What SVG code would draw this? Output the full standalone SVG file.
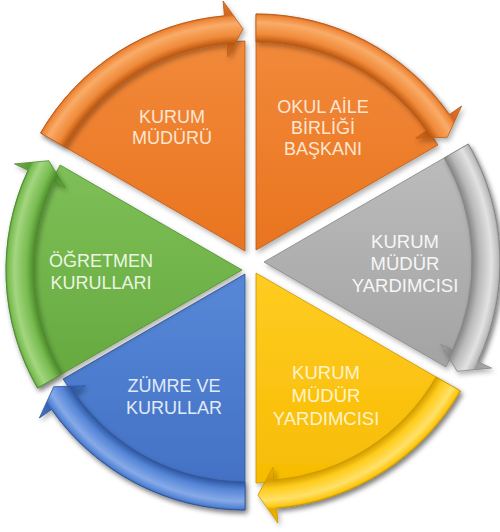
<svg xmlns="http://www.w3.org/2000/svg" width="500" height="532" viewBox="0 0 500 532">
<defs>
  <filter id="sh" x="-10%" y="-10%" width="125%" height="125%">
    <feDropShadow dx="2" dy="3" stdDeviation="2.5" flood-color="#000" flood-opacity="0.3"/>
  </filter>
  <linearGradient id="bOr" x1="0" y1="0" x2="0" y2="1"><stop offset="0" stop-color="#F38C3E"/><stop offset="1" stop-color="#E9741F"/></linearGradient>
  <linearGradient id="bGy" x1="0" y1="0" x2="0" y2="1"><stop offset="0" stop-color="#BDBDBD"/><stop offset="1" stop-color="#A3A3A3"/></linearGradient>
  <linearGradient id="bYe" x1="0" y1="0" x2="0" y2="1"><stop offset="0" stop-color="#FFCC22"/><stop offset="1" stop-color="#F6BA00"/></linearGradient>
  <linearGradient id="bBl" x1="0" y1="0" x2="0" y2="1"><stop offset="0" stop-color="#5788D8"/><stop offset="1" stop-color="#416EC2"/></linearGradient>
  <linearGradient id="bGr" x1="0" y1="0" x2="0" y2="1"><stop offset="0" stop-color="#7EC057"/><stop offset="1" stop-color="#64A83E"/></linearGradient>

  <radialGradient id="aOr1" gradientUnits="userSpaceOnUse" cx="245" cy="251" r="260">
    <stop offset="0.75" stop-color="#E06E22"/><stop offset="0.80" stop-color="#B9550F"/><stop offset="0.83" stop-color="#F08A3A"/><stop offset="0.875" stop-color="#F9AC68"/><stop offset="0.90" stop-color="#EF8739"/><stop offset="0.91" stop-color="#D2671E"/><stop offset="0.97" stop-color="#E87A2C"/>
  </radialGradient>
  <radialGradient id="aOr2" gradientUnits="userSpaceOnUse" cx="256" cy="250" r="260">
    <stop offset="0.75" stop-color="#E06E22"/><stop offset="0.80" stop-color="#B9550F"/><stop offset="0.83" stop-color="#F08A3A"/><stop offset="0.875" stop-color="#F9AC68"/><stop offset="0.90" stop-color="#EF8739"/><stop offset="0.91" stop-color="#D2671E"/><stop offset="0.97" stop-color="#E87A2C"/>
  </radialGradient>
  <radialGradient id="aGy" gradientUnits="userSpaceOnUse" cx="264" cy="262" r="260">
    <stop offset="0.75" stop-color="#A8A8A8"/><stop offset="0.80" stop-color="#858585"/><stop offset="0.83" stop-color="#B9B9B9"/><stop offset="0.875" stop-color="#E2E2E2"/><stop offset="0.90" stop-color="#BEBEBE"/><stop offset="0.91" stop-color="#9A9A9A"/><stop offset="0.97" stop-color="#B0B0B0"/>
  </radialGradient>
  <radialGradient id="aYe" gradientUnits="userSpaceOnUse" cx="256" cy="273" r="260">
    <stop offset="0.75" stop-color="#F2B400"/><stop offset="0.80" stop-color="#D49C00"/><stop offset="0.83" stop-color="#FFCC1A"/><stop offset="0.875" stop-color="#FFE16A"/><stop offset="0.90" stop-color="#FFC814"/><stop offset="0.91" stop-color="#E3A800"/><stop offset="0.97" stop-color="#F5BC00"/>
  </radialGradient>
  <radialGradient id="aBl" gradientUnits="userSpaceOnUse" cx="245" cy="274" r="260">
    <stop offset="0.75" stop-color="#4675C8"/><stop offset="0.80" stop-color="#2E56A0"/><stop offset="0.83" stop-color="#5585D6"/><stop offset="0.875" stop-color="#86AAE8"/><stop offset="0.90" stop-color="#5584D4"/><stop offset="0.91" stop-color="#3863B4"/><stop offset="0.97" stop-color="#4A78C8"/>
  </radialGradient>
  <radialGradient id="aGr" gradientUnits="userSpaceOnUse" cx="242" cy="270" r="260">
    <stop offset="0.75" stop-color="#68AB42"/><stop offset="0.80" stop-color="#4C8A2A"/><stop offset="0.83" stop-color="#78BC50"/><stop offset="0.875" stop-color="#A3D680"/><stop offset="0.90" stop-color="#7ABD52"/><stop offset="0.91" stop-color="#5C9C36"/><stop offset="0.97" stop-color="#6CB046"/>
  </radialGradient>
</defs>
<style>
  .body { filter: url(#sh); stroke-width: 0.8; }
  .arr { filter: url(#sh); stroke-width: 0.8; stroke-linejoin: round; }
  .lbl { font-family: "Liberation Sans", Arial, sans-serif; font-size: 18px; text-anchor: middle; }
  .big { font-size: 18.5px; }
  .or { stroke: #B85A18; }
  .gy { stroke: #858585; }
  .ye { stroke: #C89600; }
  .bl { stroke: #2F5597; }
  .gr { stroke: #4E8A2E; }
</style>

<g id="node-kurum-muduru">
  <path class="body or" fill="url(#bOr)" d="M245,251 L245,41 L226.7,41.8 L224.4,15.9 A236,236 0 0 0 40.6,133.0 Z"/>
  <text class="lbl" fill="#FCE6D2"><tspan x="172" y="123">KURUM</tspan><tspan x="172" y="144">MÜDÜRÜ</tspan></text>
</g>
<g id="node-okul-aile-birligi">
  <path class="body or" fill="url(#bOr)" d="M256,250 L437.9,145 L428.0,129.5 L449.3,114.6 A236,236 0 0 0 256,14 Z"/>
  <text class="lbl" fill="#FCE6D2"><tspan x="323" y="113">OKUL AİLE</tspan><tspan x="323" y="134">BİRLİĞİ</tspan><tspan x="323" y="155">BAŞKANI</tspan></text>
</g>
<g id="node-mudur-yardimcisi-1">
  <path class="body gy" fill="url(#bGy)" d="M264,262 L445.9,367 L454.3,350.7 L477.9,361.7 A236,236 0 0 0 468.4,144.0 Z"/>
  <text class="lbl big" fill="#F6F6F6"><tspan x="405" y="248">KURUM</tspan><tspan x="405" y="270">MÜDÜR</tspan><tspan x="405" y="292">YARDIMCISI</tspan></text>
</g>
<g id="node-mudur-yardimcisi-2">
  <path class="body ye" fill="url(#bYe)" d="M256,273 L256,483 L274.3,482.2 L276.6,508.1 A236,236 0 0 0 460.4,391 Z"/>
  <text class="lbl big" fill="#FFF3CC"><tspan x="326" y="379">KURUM</tspan><tspan x="326" y="402">MÜDÜR</tspan><tspan x="326" y="425">YARDIMCISI</tspan></text>
</g>
<g id="node-zumre-ve-kurullar">
  <path class="body bl" fill="url(#bBl)" d="M245,274 L63.1,379 L73.0,394.5 L51.7,409.4 A236,236 0 0 0 245,510 Z"/>
  <text class="lbl" fill="#E2EAF8"><tspan x="174" y="392">ZÜMRE VE</tspan><tspan x="174" y="414">KURULLAR</tspan></text>
</g>
<g id="node-ogretmen-kurullari">
  <path class="body gr" fill="url(#bGr)" d="M242,270 L60.1,165 L51.7,181.3 L28.1,170.3 A236,236 0 0 0 37.6,388 Z"/>
  <text class="lbl" fill="#ECF5E2"><tspan x="101" y="267">ÖĞRETMEN</tspan><tspan x="101" y="289">KURULLARI</tspan></text>
</g>

<g id="connectors">
  <path class="arr or" fill="url(#aOr1)" d="M40.6,133.0 A236,236 0 0 1 224.4,15.9 L223.1,1.0 L243.1,29.0 L228.0,56.7 L226.9,43.8 A208,208 0 0 0 64.9,147.0 Z"/>
  <path class="arr or" fill="url(#aOr2)" d="M256,14 A236,236 0 0 1 449.3,114.6 L461.6,106.0 L447.3,137.3 L415.7,138.2 L426.4,130.7 A208,208 0 0 0 256,42 Z"/>
  <path class="arr gy" fill="url(#aGy)" d="M468.4,144.0 A236,236 0 0 1 477.9,361.7 L491.5,368.1 L457.2,371.3 L440.7,344.4 L452.5,349.9 A208,208 0 0 0 444.1,158.0 Z"/>
  <path class="arr ye" fill="url(#aYe)" d="M460.4,391 A236,236 0 0 1 276.6,508.1 L277.9,523.0 L257.9,495 L273.0,467.3 L274.1,480.2 A208,208 0 0 0 436.1,377 Z"/>
  <path class="arr bl" fill="url(#aBl)" d="M245,510 A236,236 0 0 1 51.7,409.4 L39.4,418.0 L53.7,386.7 L85.3,385.8 L74.6,393.3 A208,208 0 0 0 245,482 Z"/>
  <path class="arr gr" fill="url(#aGr)" d="M37.6,388 A236,236 0 0 1 28.1,170.3 L14.5,163.9 L48.8,160.7 L65.3,187.6 L53.5,182.1 A208,208 0 0 0 61.9,374 Z"/>
</g>
</svg>
